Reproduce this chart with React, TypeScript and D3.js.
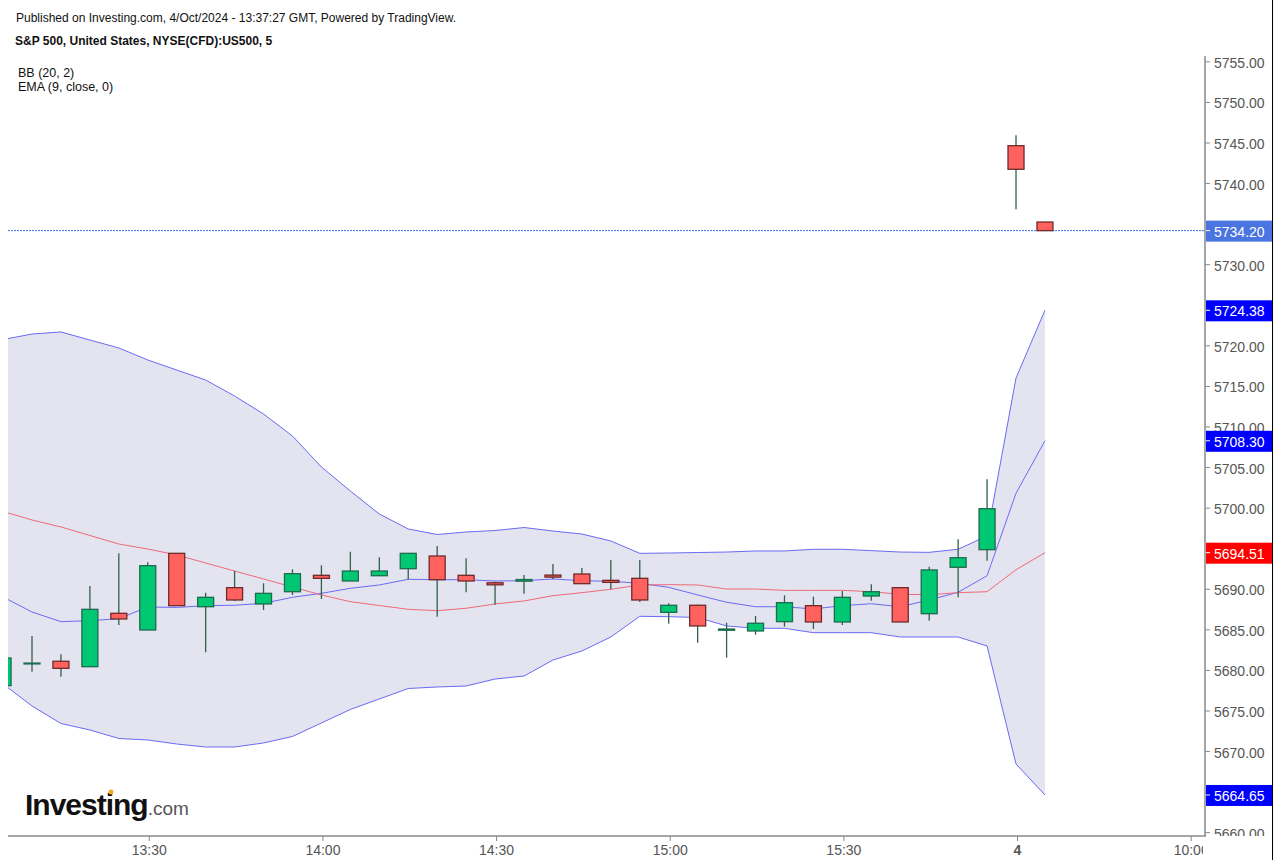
import * as d3 from 'd3'
import { useEffect, useRef } from 'react'

const width = 1280
const height = 866

// candle index 0 is the 13:05 bar, -1 is the one cut off by the left edge
const candleIndex = d3.range(-1, 36)
const opens = [5678.12, 5680.8, 5681.13, 5680.46, 5687.04, 5684.98, 5694.43, 5687.85, 5690.2, 5688.19, 5689.7, 5691.72, 5691.02, 5691.67, 5692.54, 5694.1, 5691.72, 5690.8, 5691.0, 5691.75, 5691.88, 5691.1, 5691.35, 5687.16, 5688.03, 5684.95, 5684.86, 5686.01, 5687.98, 5685.97, 5689.17, 5690.2, 5686.99, 5692.71, 5694.88, 5744.67, 5735.26]
const highs = [5681.53, 5684.24, 5681.99, 5690.4, 5694.43, 5693.33, 5694.43, 5689.58, 5692.25, 5690.74, 5692.46, 5692.96, 5694.63, 5693.94, 5694.43, 5695.33, 5693.82, 5690.94, 5691.76, 5693.12, 5692.62, 5693.61, 5693.61, 5688.27, 5688.1, 5685.88, 5686.71, 5689.26, 5689.09, 5689.79, 5690.61, 5690.2, 5692.78, 5696.16, 5703.55, 5745.95, 5735.26]
const lows = [5678.12, 5679.84, 5679.23, 5680.46, 5685.6, 5684.98, 5687.98, 5682.23, 5688.55, 5687.45, 5689.3, 5688.8, 5691.02, 5691.63, 5691.23, 5686.62, 5689.63, 5688.1, 5689.46, 5691.23, 5690.65, 5690.0, 5688.43, 5685.76, 5683.42, 5681.57, 5684.4, 5685.39, 5685.11, 5685.6, 5688.59, 5685.97, 5686.13, 5689.01, 5693.52, 5736.83, 5734.2]
const closes = [5681.53, 5680.9, 5680.26, 5687.53, 5686.34, 5692.91, 5687.98, 5689.01, 5688.68, 5689.5, 5691.92, 5691.35, 5692.25, 5692.25, 5694.43, 5691.18, 5691.02, 5690.55, 5691.2, 5691.5, 5690.69, 5690.85, 5688.68, 5688.03, 5685.48, 5685.1, 5685.81, 5688.35, 5685.97, 5689.01, 5689.7, 5685.97, 5692.38, 5693.89, 5699.93, 5741.76, 5734.2]

const bbUpper = [5720.78, 5721.46, 5721.71, 5720.72, 5719.74, 5718.26, 5717.02, 5715.79, 5713.82, 5711.6, 5708.89, 5705.07, 5702.11, 5699.28, 5697.43, 5696.75, 5697.06, 5697.24, 5697.61, 5697.18, 5696.81, 5695.95, 5694.43, 5694.47, 5694.53, 5694.59, 5694.72, 5694.72, 5694.93, 5694.93, 5694.76, 5694.59, 5694.55, 5694.93, 5696.57, 5716.04, 5724.38]
const bbMiddle = [5689.05, 5687.2, 5686.01, 5686.13, 5686.37, 5687.82, 5687.76, 5687.98, 5688.03, 5688.27, 5689.01, 5689.5, 5690.12, 5690.53, 5691.23, 5691.18, 5691.18, 5691.02, 5691.06, 5691.27, 5691.06, 5690.98, 5690.74, 5690.24, 5689.3, 5688.4, 5687.85, 5687.85, 5687.57, 5687.98, 5688.22, 5687.85, 5688.68, 5689.63, 5691.67, 5701.83, 5708.3]
const bbLower = [5678.33, 5675.62, 5673.46, 5672.66, 5671.61, 5671.43, 5670.93, 5670.56, 5670.56, 5671.06, 5671.86, 5673.52, 5675.19, 5676.48, 5677.77, 5677.96, 5678.08, 5678.94, 5679.31, 5681.28, 5682.39, 5684.12, 5686.67, 5686.62, 5686.52, 5685.48, 5685.19, 5685.19, 5684.65, 5684.65, 5684.65, 5684.12, 5684.12, 5684.12, 5683.01, 5668.47, 5664.65]
const ema = [5699.59, 5698.54, 5697.68, 5696.63, 5695.58, 5694.96, 5694.23, 5693.24, 5692.25, 5691.27, 5690.28, 5689.3, 5688.47, 5688.0, 5687.53, 5687.36, 5687.66, 5688.19, 5688.56, 5689.21, 5689.58, 5690.0, 5690.53, 5690.57, 5690.53, 5690.03, 5690.03, 5689.87, 5689.87, 5689.87, 5689.7, 5689.38, 5689.33, 5689.58, 5689.7, 5692.41, 5694.51]

const priceTicks = [5755, 5750, 5745, 5740, 5730, 5720, 5715, 5710, 5705, 5700, 5690, 5685, 5680, 5675, 5670, 5660]
const timeTicks = [4, 10, 16, 22, 28, 34, 40]
const timeLabels = ['13:30', '14:00', '14:30', '15:00', '15:30', '4', '10:00']

const lastPrice = 5734.2
const priceTags = [
  { value: 5734.2, fill: '#4a74e0' },
  { value: 5724.38, fill: '#0000ff' },
  { value: 5708.3, fill: '#0000ff' },
  { value: 5694.51, fill: '#ff0000' },
  { value: 5664.65, fill: '#0000ff' },
]

const sans = '"Liberation Sans", Arial, sans-serif'

export default function App() {
  const svgRef = useRef<SVGSVGElement | null>(null)

  useEffect(() => {
    if (!svgRef.current) return
    const svg = d3.select(svgRef.current)
    svg.selectAll('*').remove()

    const x = d3.scaleLinear().domain([-1, 40]).range([3.06, 1189.66])
    const y = d3.scaleLinear().domain([5745, 5660]).range([143, 832.7])

    const plotLeft = 8
    const plotRight = 1205
    const plotTop = 56
    const plotBottom = 836

    svg.append('defs').append('clipPath').attr('id', 'plot')
      .append('rect')
      .attr('x', plotLeft).attr('y', plotTop)
      .attr('width', plotRight - plotLeft).attr('height', plotBottom - plotTop)
    d3.select(svgRef.current).select('defs').append('clipPath').attr('id', 'price-axis')
      .append('rect')
      .attr('x', plotRight).attr('y', plotTop)
      .attr('width', 67).attr('height', plotBottom - plotTop)

    const plot = svg.append('g').attr('clip-path', 'url(#plot)')

    const band = d3.area<number>()
      .x((d) => x(d))
      .y0((_, i) => y(bbLower[i]))
      .y1((_, i) => y(bbUpper[i]))
    plot.append('path').attr('d', band(candleIndex)).attr('fill', '#e4e4f0')

    const drawLine = (values: number[], color: string) => {
      const line = d3.line<number>().x((d) => x(d)).y((_, i) => y(values[i]))
      plot.append('path')
        .attr('d', line(candleIndex))
        .attr('fill', 'none')
        .attr('stroke', color)
        .attr('stroke-width', 1)
    }
    drawLine(bbUpper, '#6a6af5')
    drawLine(bbMiddle, '#6a6af5')
    drawLine(bbLower, '#6a6af5')
    drawLine(ema, '#ee6a78')

    plot.append('line')
      .attr('x1', plotLeft).attr('x2', plotRight)
      .attr('y1', y(lastPrice)).attr('y2', y(lastPrice))
      .attr('stroke', '#3d6fe8')
      .attr('stroke-width', 1)
      .attr('stroke-dasharray', '2 1')

    const candles = plot.selectAll('g.candle')
      .data(candleIndex)
      .join('g')
      .attr('class', 'candle')

    candles.append('line')
      .attr('x1', (d) => x(d)).attr('x2', (d) => x(d))
      .attr('y1', (_, i) => y(highs[i]))
      .attr('y2', (_, i) => y(lows[i]))
      .attr('stroke', '#2f6149')
      .attr('stroke-width', 1.3)

    candles.append('rect')
      .attr('x', (d) => x(d) - 8)
      .attr('width', 16)
      .attr('y', (_, i) => y(Math.max(opens[i], closes[i])))
      .attr('height', (_, i) => Math.abs(y(opens[i]) - y(closes[i])))
      .attr('fill', (_, i) => (closes[i] >= opens[i] ? '#00c872' : '#ff625e'))
      .attr('stroke', (_, i) => (closes[i] >= opens[i] ? '#1d6b4e' : '#6e2a2a'))
      .attr('stroke-width', 1.3)

    // axes
    const axisColor = '#888888'
    svg.append('line')
      .attr('x1', plotLeft).attr('x2', plotRight + 1)
      .attr('y1', plotBottom).attr('y2', plotBottom)
      .attr('stroke', axisColor).attr('stroke-width', 1.5)
    svg.append('line')
      .attr('x1', plotRight).attr('x2', plotRight)
      .attr('y1', plotTop).attr('y2', plotBottom)
      .attr('stroke', axisColor).attr('stroke-width', 1.5)
    svg.append('line')
      .attr('x1', 1272.5).attr('x2', 1272.5)
      .attr('y1', 0).attr('y2', 860)
      .attr('stroke', '#000000').attr('stroke-width', 1)

    const priceAxis = svg.append('g').attr('clip-path', 'url(#price-axis)')
    const priceTick = priceAxis.selectAll('g.tick')
      .data(priceTicks)
      .join('g')
      .attr('class', 'tick')
      .attr('transform', (d) => `translate(0,${y(d)})`)
    priceTick.append('line')
      .attr('x1', plotRight).attr('x2', plotRight + 5)
      .attr('stroke', axisColor)
    priceTick.append('text')
      .attr('x', 1214).attr('y', 6)
      .attr('font-family', sans).attr('font-size', 14)
      .attr('fill', '#555555')
      .text((d) => d3.format('.2f')(d))

    const tags = priceAxis.selectAll('g.tag')
      .data(priceTags)
      .join('g')
      .attr('class', 'tag')
      .attr('transform', (d) => `translate(0,${y(d.value)})`)
    tags.append('rect')
      .attr('x', plotRight + 1).attr('y', -10)
      .attr('width', 66).attr('height', 21)
      .attr('fill', (d) => d.fill)
    tags.append('line')
      .attr('x1', plotRight + 1).attr('x2', plotRight + 5)
      .attr('stroke', '#ffffff')
    tags.append('text')
      .attr('x', 1214).attr('y', 6)
      .attr('font-family', sans).attr('font-size', 14)
      .attr('fill', '#ffffff')
      .text((d) => d3.format('.2f')(d.value))

    const timeAxis = svg.append('g').attr('clip-path', 'url(#time-axis)')
    d3.select(svgRef.current).select('defs').append('clipPath').attr('id', 'time-axis')
      .append('rect')
      .attr('x', plotLeft).attr('y', plotBottom)
      .attr('width', plotRight - plotLeft - 2).attr('height', 30)
    const timeTick = timeAxis.selectAll('g.tick')
      .data(timeTicks)
      .join('g')
      .attr('class', 'tick')
      .attr('transform', (d) => `translate(${x(d) + 1.5},${plotBottom})`)
    timeTick.append('line')
      .attr('y1', 0).attr('y2', 5)
      .attr('stroke', axisColor)
    timeTick.append('text')
      .attr('y', 19)
      .attr('text-anchor', 'middle')
      .attr('font-family', sans).attr('font-size', 14)
      .attr('font-weight', (_, i) => (timeLabels[i] === '4' ? 'bold' : 'normal'))
      .attr('fill', '#555555')
      .text((_, i) => timeLabels[i])

    // header and legend
    const label = (text: string, lx: number, ly: number, size: number, weight = 'normal') =>
      svg.append('text')
        .attr('x', lx).attr('y', ly)
        .attr('font-family', sans).attr('font-size', size)
        .attr('font-weight', weight)
        .attr('fill', '#111111')
        .text(text)
    label('Published on Investing.com, 4/Oct/2024 - 13:37:27 GMT, Powered by TradingView.', 16, 22, 12)
    label('S&P 500, United States, NYSE(CFD):US500, 5', 15, 45, 12, 'bold')
    label('BB (20, 2)', 18, 77, 12.5)
    label('EMA (9, close, 0)', 18, 91, 12.5)

    // logo
    const logo = svg.append('text')
      .attr('x', 25).attr('y', 815)
      .attr('font-family', sans)
    logo.append('tspan')
      .attr('font-size', 30).attr('font-weight', 'bold')
      .attr('letter-spacing', -1).attr('fill', '#111111')
      .text('Investing')
    logo.append('tspan')
      .attr('font-size', 19).attr('fill', '#555555')
      .text('.com')
    svg.append('circle')
      .attr('cx', 111).attr('cy', 792).attr('r', 2.5)
      .attr('fill', '#f5a623')
  }, [])

  return <svg ref={svgRef} width={width} height={height} style={{ position: 'absolute', left: 0, top: 0 }} />
}
